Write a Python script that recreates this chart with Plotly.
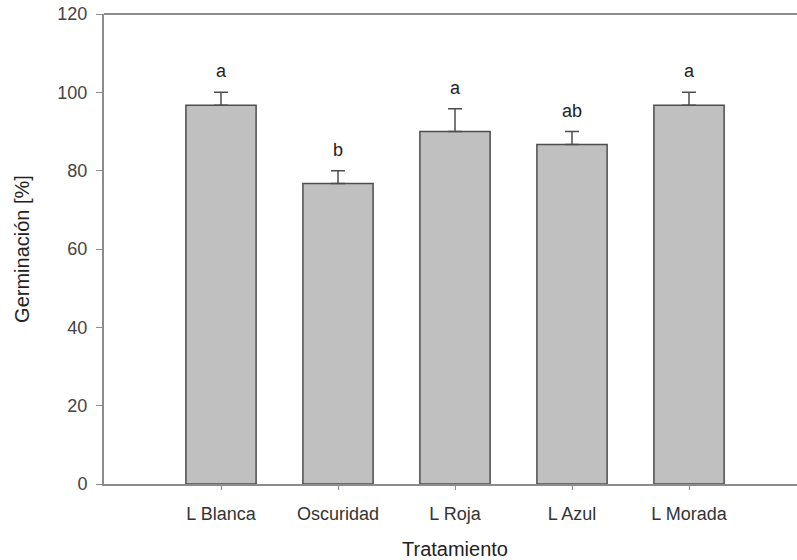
import plotly.graph_objects as go

categories = ["L Blanca", "Oscuridad", "L Roja", "L Azul", "L Morada"]
germinacion = [96.7, 76.7, 90.0, 86.7, 96.7]
error_sup = [3.3, 3.3, 5.8, 3.3, 3.3]
letras = ["a", "b", "a", "ab", "a"]
y_ticks = [0, 20, 40, 60, 80, 100, 120]

idx = list(range(len(categories)))
FONT = "Liberation Sans, Arial"

fig = go.Figure()
fig.add_trace(go.Bar(
    x=idx, y=germinacion, width=0.6,
    marker=dict(color="#c0c0c0", line=dict(color="#4d4d4d", width=1.5)),
    error_y=dict(type="data", array=error_sup, arrayminus=[0]*len(error_sup),
                 symmetric=False, color="#4d4d4d", thickness=1.5, width=7),
    showlegend=False,
))

for i, (v, e, t) in enumerate(zip(germinacion, error_sup, letras)):
    fig.add_annotation(x=i, y=v + e, text=t, showarrow=False, yanchor="bottom",
                       yshift=9, font=dict(family=FONT, size=18, color="#222"))

fig.add_annotation(x=2, y=0, xref="x", yref="paper", text="Tratamiento", showarrow=False,
                   yanchor="top", yshift=-52, font=dict(family=FONT, size=20, color="#222"))

# top frame line
fig.add_shape(type="line", xref="paper", yref="paper", x0=0, x1=1, y0=1, y1=1,
              line=dict(color="#8c8c8c", width=2))

fig.update_layout(
    width=797, height=560,
    margin=dict(l=104, r=0, t=14, b=76),
    paper_bgcolor="white", plot_bgcolor="white",
    font=dict(family=FONT, color="#333"),
)
fig.update_xaxes(
    range=[-1, 4.923], tickmode="array", tickvals=idx, ticktext=categories,
    showline=True, linecolor="#8c8c8c", linewidth=2,
    ticks="outside", ticklen=4, tickcolor="#8c8c8c", tickwidth=1,
    tickfont=dict(size=18, color="#333"), ticklabelstandoff=8,
    showgrid=False, zeroline=False, automargin=False,
)
fig.update_yaxes(
    range=[0, 120], tickvals=y_ticks,
    showline=True, linecolor="#8c8c8c", linewidth=2,
    ticks="outside", ticklen=6, tickcolor="#8c8c8c", tickwidth=1,
    tickfont=dict(size=18, color="#444"), ticklabelstandoff=5,
    showgrid=False, zeroline=False,
    title=dict(text="Germinación [%]", font=dict(size=20, color="#222"), standoff=22),
    automargin=False,
)

fig.write_html("out.html", config={"displayModeBar": False},
               post_script="document.body.style.margin='0';document.body.style.overflow='hidden';")
